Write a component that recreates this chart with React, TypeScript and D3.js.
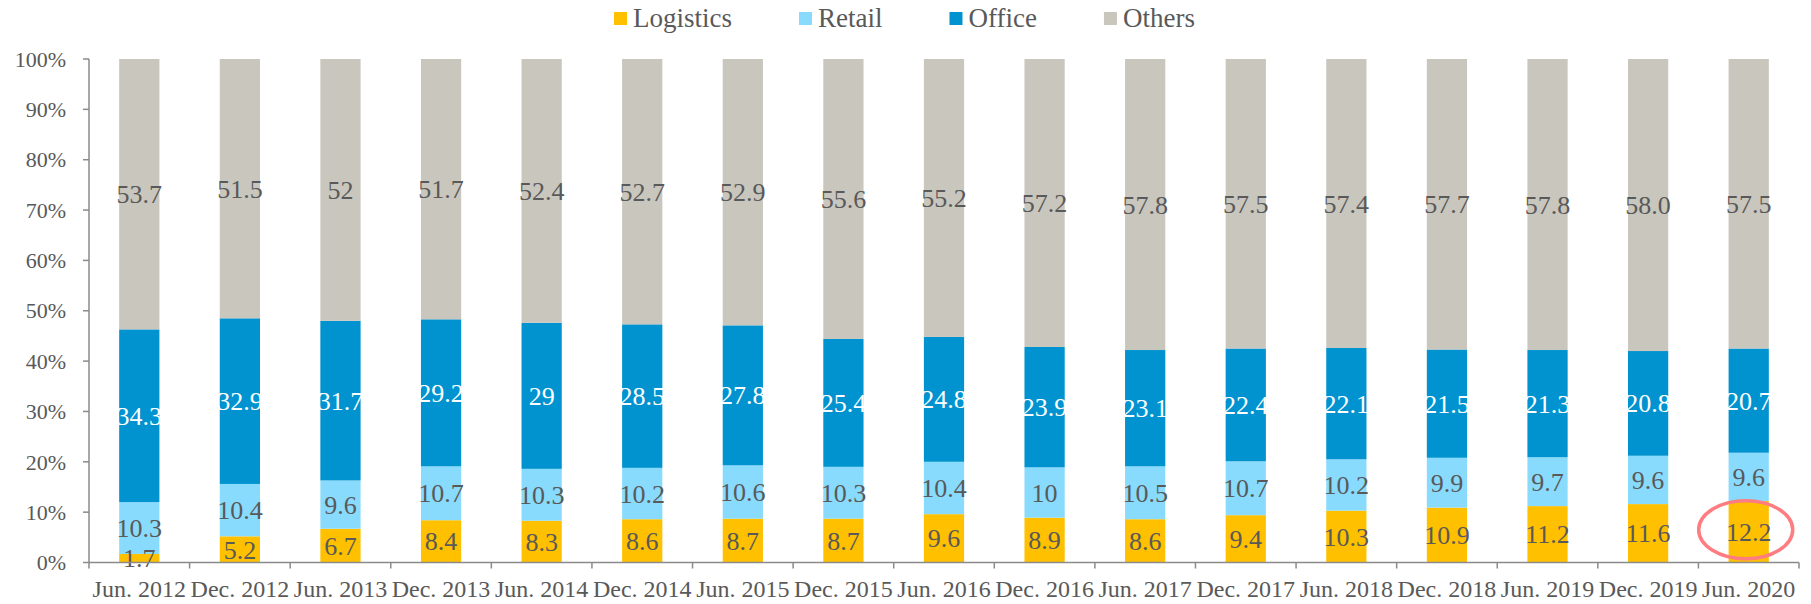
import React from "react";
import * as d3 from "d3";

// Half-year periods on the x axis
const periods = [
  "Jun. 2012", "Dec. 2012", "Jun. 2013", "Dec. 2013", "Jun. 2014", "Dec. 2014",
  "Jun. 2015", "Dec. 2015", "Jun. 2016", "Dec. 2016", "Jun. 2017", "Dec. 2017",
  "Jun. 2018", "Dec. 2018", "Jun. 2019", "Dec. 2019", "Jun. 2020",
];

// Share of each asset type (%), kept as printed so the label text matches the value
const logistics = ["1.7", "5.2", "6.7", "8.4", "8.3", "8.6", "8.7", "8.7", "9.6", "8.9", "8.6", "9.4", "10.3", "10.9", "11.2", "11.6", "12.2"];
const retail = ["10.3", "10.4", "9.6", "10.7", "10.3", "10.2", "10.6", "10.3", "10.4", "10", "10.5", "10.7", "10.2", "9.9", "9.7", "9.6", "9.6"];
const office = ["34.3", "32.9", "31.7", "29.2", "29", "28.5", "27.8", "25.4", "24.8", "23.9", "23.1", "22.4", "22.1", "21.5", "21.3", "20.8", "20.7"];
const others = ["53.7", "51.5", "52", "51.7", "52.4", "52.7", "52.9", "55.6", "55.2", "57.2", "57.8", "57.5", "57.4", "57.7", "57.8", "58.0", "57.5"];

const seriesNames = ["Logistics", "Retail", "Office", "Others"];
const seriesValues = [logistics, retail, office, others];
const seriesColors = ["#FFC000", "#89DBFD", "#0093D0", "#C9C6BE"];
const labelColors = ["#595959", "#595959", "#FFFFFF", "#595959"];

const yTicks = [0, 10, 20, 30, 40, 50, 60, 70, 80, 90, 100];

// Period whose logistics share is circled
const highlightIndex = periods.length - 1;

const W = 1811;
const H = 604;
const FONT = "'Liberation Serif', 'Times New Roman', serif";
const TEXT = "#595959";
const AXIS = "#8A8A8A";

const margin = { left: 89, right: 12, top: 59, bottom: 41.5 };

function measure(text: string, size: number): number {
  const c = document.createElement("canvas").getContext("2d");
  if (!c) return text.length * size * 0.45;
  c.font = `${size}px ${FONT}`;
  return c.measureText(text).width;
}

export default function App() {
  const x = d3
    .scaleBand<string>()
    .domain(periods)
    .range([margin.left, W - margin.right])
    .paddingInner(0.6)
    .paddingOuter(0.3);

  const y = d3
    .scaleLinear()
    .domain([0, 100])
    .range([H - margin.bottom, margin.top]);

  const rows = periods.map((p, i) => {
    const row: Record<string, number | string> = { period: p };
    seriesNames.forEach((s, k) => {
      row[s] = Number(seriesValues[k][i]);
    });
    return row;
  });

  const stacked = d3.stack<Record<string, number | string>>().keys(seriesNames)(rows as any);

  const step = x.step();
  const x0 = margin.left;
  const x1 = x0 + step * periods.length;
  const yBase = y(0);

  // Legend layout
  const legendFont = 27;
  const sq = 13;
  const legendGap = 67;
  const items: { name: string; color: string; x: number }[] = [];
  let cursor = 614;
  seriesNames.forEach((n, k) => {
    items.push({ name: n, color: seriesColors[k], x: cursor });
    cursor += sq + 6 + measure(n, legendFont) + legendGap;
  });

  const hx = (x(periods[highlightIndex]) as number) + x.bandwidth() / 2;
  const hy = y(Number(logistics[highlightIndex]) / 2);

  return (
    <svg
      width={W}
      height={H}
      style={{ position: "absolute", left: 0, top: 0, background: "#fff" }}
      fontFamily={FONT}
    >
      {/* legend */}
      {items.map((it) => (
        <g key={it.name}>
          <rect x={it.x} y={12} width={sq} height={sq} fill={it.color} />
          <text x={it.x + sq + 6} y={27} fontSize={legendFont} fill={TEXT}>
            {it.name}
          </text>
        </g>
      ))}

      {/* stacked bars */}
      {stacked.map((layer, k) => (
        <g key={seriesNames[k]}>
          {layer.map((d, i) => (
            <rect
              key={i}
              x={x(periods[i])}
              y={y(d[1])}
              width={x.bandwidth()}
              height={y(d[0]) - y(d[1])}
              fill={seriesColors[k]}
            />
          ))}
        </g>
      ))}

      {/* value labels */}
      {stacked.map((layer, k) => (
        <g key={"lab" + seriesNames[k]}>
          {layer.map((d, i) => (
            <text
              key={i}
              x={(x(periods[i]) as number) + x.bandwidth() / 2}
              y={y((d[0] + d[1]) / 2)}
              dy="0.35em"
              textAnchor="middle"
              fontSize={26}
              fill={labelColors[k]}
            >
              {seriesValues[k][i]}
            </text>
          ))}
        </g>
      ))}

      {/* y axis */}
      <line x1={x0} x2={x0} y1={y(100)} y2={yBase} stroke={AXIS} strokeWidth={1.5} />
      {yTicks.map((t) => (
        <g key={t}>
          <line x1={x0 - 6} x2={x0} y1={y(t)} y2={y(t)} stroke={AXIS} strokeWidth={1.5} />
          <text
            x={66}
            y={y(t)}
            dy="0.35em"
            textAnchor="end"
            fontSize={22}
            fill={TEXT}
          >
            {t}%
          </text>
        </g>
      ))}

      {/* x axis */}
      <line x1={x0} x2={x1} y1={yBase} y2={yBase} stroke={AXIS} strokeWidth={1.5} />
      {d3.range(periods.length + 1).map((i) => (
        <line
          key={i}
          x1={x0 + i * step}
          x2={x0 + i * step}
          y1={yBase}
          y2={yBase + 6}
          stroke={AXIS}
          strokeWidth={1.5}
        />
      ))}
      {periods.map((p) => (
        <text
          key={p}
          x={(x(p) as number) + x.bandwidth() / 2}
          y={597}
          textAnchor="middle"
          fontSize={24}
          fill={TEXT}
        >
          {p}
        </text>
      ))}

      {/* highlight ring */}
      <ellipse
        cx={hx - 3}
        cy={hy - 2}
        rx={47}
        ry={29}
        fill="none"
        stroke="#FF7C80"
        strokeWidth={3.5}
      />
    </svg>
  );
}
